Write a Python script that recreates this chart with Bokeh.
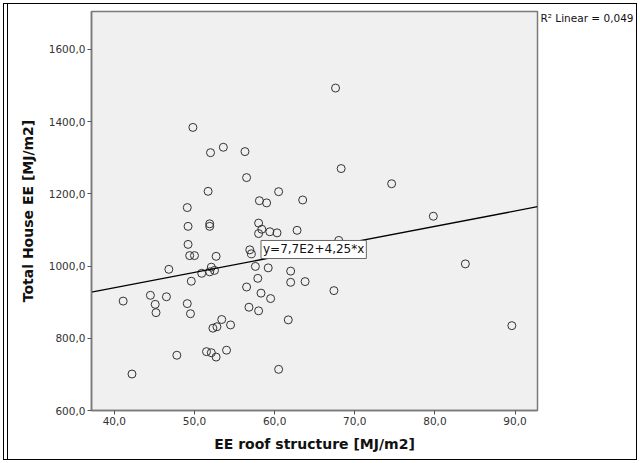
from bokeh.plotting import figure
from bokeh.models import (FixedTicker, CustomJSTickFormatter, Label, ColumnDataSource,
                          LinearAxis)
from bokeh.embed import file_html
from bokeh.resources import INLINE

# EE roof structure [MJ/m2]
roof_ee = [67.6, 49.8, 52.0, 53.6, 56.3, 56.5, 51.7, 60.5, 49.1, 58.1,
           59.0, 63.5, 49.2, 51.9, 51.9, 58.0, 58.4, 58.0, 59.4, 60.3,
           62.8, 49.2, 49.4, 50.0, 52.7, 56.9, 57.1, 46.8, 52.1, 50.9,
           51.9, 52.5, 49.6, 57.6, 59.2, 57.9, 62.0, 62.0, 63.8, 56.5,
           58.3, 59.5, 41.1, 44.5, 45.1, 46.5, 45.2, 49.1, 49.5, 56.8,
           58.0, 61.7, 53.4, 52.3, 52.8, 54.5, 47.8, 51.5, 52.1, 52.7,
           54.0, 42.2, 60.5, 68.3, 74.6, 79.8, 68.0, 83.8, 67.4, 89.6]
# Total House EE [MJ/m2]
house_ee = [1493, 1384, 1314, 1329, 1317, 1245, 1207, 1206, 1162, 1181,
            1175, 1183, 1110, 1117, 1110, 1119, 1102, 1090, 1095, 1092,
            1099, 1060, 1029, 1029, 1027, 1045, 1034, 991, 997, 980,
            984, 988, 958, 999, 995, 966, 986, 955, 957, 942,
            925, 910, 903, 919, 894, 915, 871, 896, 868, 886,
            876, 851, 852, 828, 832, 837, 753, 763, 760, 748,
            767, 701, 714, 1270, 1228, 1138, 1071, 1006, 932, 835]

x_ticks = [40, 50, 60, 70, 80, 90]
y_ticks = [600, 800, 1000, 1200, 1400, 1600]
x_range = (37.15, 92.8)
y_range = (600, 1705)

fit_intercept = 770.0
fit_slope = 4.25
fit_label = "y=7,7E2+4,25*x"
r2_label = "R\u00b2 Linear = 0,049"
r2_anchor_y = 1688  # vertical position of the R² note (y-axis units)

FONT = "DejaVu Sans"

W, H = 640, 463
p = figure(width=W, height=H, output_backend="svg", toolbar_location=None,
           x_range=x_range, y_range=y_range,
           min_border_left=91, min_border_right=103, min_border_top=11, min_border_bottom=53)
# thin black frame round the whole chart area (double line on the left)
p.styles = {"background-color": "white",
            "box-shadow": ("inset 0 0 0 3px white, inset 0 0 0 4px black, "
                           "inset 7px 0 0 0 white, inset 8px 0 0 0 black")}

p.background_fill_color = "#f0f0f0"
p.border_fill_color = None
p.outline_line_color = "#7a7a7a"
p.outline_line_width = 1.5
p.grid.visible = False

fmt = CustomJSTickFormatter(code="return tick.toFixed(1).replace('.', ',');")
for ax, ticks in ((p.xaxis, x_ticks), (p.yaxis, y_ticks)):
    ax.ticker = FixedTicker(ticks=ticks)
    ax.formatter = fmt
    ax.minor_tick_line_color = None
    ax.major_tick_in = 0
    ax.major_tick_out = 4
    ax.major_tick_line_color = "#555555"
    ax.axis_line_color = "#7a7a7a"
    ax.axis_line_width = 1.5
    ax.major_label_text_font = FONT
    ax.major_label_text_font_size = "10.5px"
    ax.major_label_text_color = "#333333"
    ax.axis_label_text_font = FONT
    ax.axis_label_text_font_style = "bold"
    ax.axis_label_text_font_size = "14px"
    ax.axis_label_text_color = "#111111"

p.xaxis.axis_label = "EE roof structure [MJ/m2]"
p.yaxis.axis_label = "Total House EE [MJ/m2]"
p.xaxis.major_label_standoff = 2
p.yaxis.major_label_standoff = 2
p.xaxis.axis_label_standoff = 8
p.yaxis.axis_label_standoff = 10

# right-side axis used only to carry the R² note next to the frame's top
r_ax = LinearAxis(ticker=FixedTicker(ticks=[r2_anchor_y]),
                  major_label_overrides={r2_anchor_y: r2_label},
                  major_tick_in=0, major_tick_out=0, minor_tick_line_color=None,
                  axis_line_color=None, major_label_standoff=3,
                  major_label_orientation="horizontal",
                  major_label_text_font=FONT, major_label_text_font_size="10.5px",
                  major_label_text_color="#111111")
p.add_layout(r_ax, "right")

src = ColumnDataSource(dict(x=roof_ee, y=house_ee))
p.scatter("x", "y", source=src, size=8, fill_color=None, line_color="#333333", line_width=1)

fx = [x_range[0], x_range[1]]
fy = [fit_intercept + fit_slope * v for v in fx]
p.line(fx, fy, line_color="black", line_width=1.3)

lab = Label(x=58.3, y=1021, text=fit_label, text_font=FONT, text_font_size="12px",
            text_color="#111111", background_fill_color="white",
            border_line_color="#666666", border_line_width=1, padding=2)
p.add_layout(lab)

open("out.html", "w").write(file_html(p, INLINE))
